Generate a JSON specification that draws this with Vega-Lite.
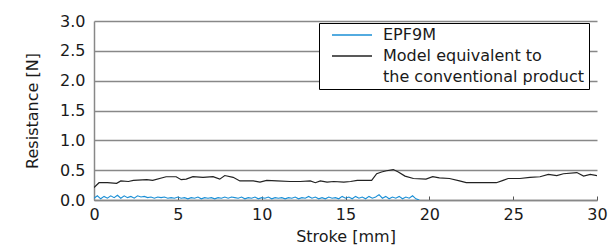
{
  "$schema": "https://vega.github.io/schema/vega-lite/v6.json",
  "width": 503,
  "height": 179,
  "autosize": "none",
  "padding": {"left": 94, "top": 21, "right": 12, "bottom": 51},
  "background": "white",
  "config": {
    "view": {"stroke": null},
    "font": "DejaVu Sans",
    "axis": {"labelFont": "DejaVu Sans", "titleFont": "DejaVu Sans", "labelFontSize": 16, "titleFontSize": 16, "titleFontWeight": "normal", "labelColor": "#1a1a1a", "titleColor": "#1a1a1a"}
  },
  "datasets": {
    "epf": [
      {"x":0.0,"y":0.03},{"x":0.2,"y":0.07},{"x":0.4,"y":0.02},{"x":0.6,"y":0.06},{"x":0.8,"y":0.03},{"x":1.0,"y":0.07},{"x":1.2,"y":0.04},{"x":1.4,"y":0.08},{"x":1.6,"y":0.03},{"x":1.8,"y":0.07},
      {"x":2.0,"y":0.04},{"x":2.2,"y":0.06},{"x":2.4,"y":0.03},{"x":2.6,"y":0.07},{"x":2.8,"y":0.05},{"x":3.0,"y":0.06},{"x":3.2,"y":0.04},{"x":3.4,"y":0.05},{"x":3.6,"y":0.03},{"x":3.8,"y":0.05},
      {"x":4.0,"y":0.04},{"x":4.2,"y":0.05},{"x":4.4,"y":0.03},{"x":4.6,"y":0.04},{"x":4.8,"y":0.03},{"x":5.0,"y":0.05},{"x":5.2,"y":0.03},{"x":5.4,"y":0.04},{"x":5.6,"y":0.02},{"x":5.8,"y":0.04},
      {"x":6.0,"y":0.03},{"x":6.2,"y":0.05},{"x":6.4,"y":0.02},{"x":6.6,"y":0.04},{"x":6.8,"y":0.03},{"x":7.0,"y":0.04},{"x":7.2,"y":0.02},{"x":7.4,"y":0.04},{"x":7.6,"y":0.03},{"x":7.8,"y":0.05},
      {"x":8.0,"y":0.03},{"x":8.2,"y":0.05},{"x":8.4,"y":0.04},{"x":8.6,"y":0.03},{"x":8.8,"y":0.05},{"x":9.0,"y":0.02},{"x":9.2,"y":0.04},{"x":9.4,"y":0.03},{"x":9.6,"y":0.05},{"x":9.8,"y":0.02},
      {"x":10.0,"y":0.04},{"x":10.2,"y":0.03},{"x":10.4,"y":0.05},{"x":10.6,"y":0.02},{"x":10.8,"y":0.04},{"x":11.0,"y":0.03},{"x":11.2,"y":0.04},{"x":11.4,"y":0.02},{"x":11.6,"y":0.04},{"x":11.8,"y":0.03},
      {"x":12.0,"y":0.05},{"x":12.2,"y":0.02},{"x":12.4,"y":0.04},{"x":12.6,"y":0.03},{"x":12.8,"y":0.06},{"x":13.0,"y":0.03},{"x":13.2,"y":0.05},{"x":13.4,"y":0.02},{"x":13.6,"y":0.04},{"x":13.8,"y":0.02},
      {"x":14.0,"y":0.05},{"x":14.2,"y":0.03},{"x":14.4,"y":0.04},{"x":14.6,"y":0.02},{"x":14.8,"y":0.06},{"x":15.0,"y":0.03},{"x":15.2,"y":0.05},{"x":15.4,"y":0.02},{"x":15.6,"y":0.06},{"x":15.8,"y":0.03},
      {"x":16.0,"y":0.05},{"x":16.2,"y":0.02},{"x":16.4,"y":0.06},{"x":16.6,"y":0.03},{"x":16.8,"y":0.05},{"x":17.0,"y":0.09},{"x":17.2,"y":0.03},{"x":17.4,"y":0.06},{"x":17.6,"y":0.02},{"x":17.8,"y":0.05},
      {"x":18.0,"y":0.03},{"x":18.2,"y":0.06},{"x":18.4,"y":0.02},{"x":18.6,"y":0.05},{"x":18.8,"y":0.03},{"x":19.0,"y":0.07},{"x":19.2,"y":0.02},{"x":19.4,"y":0.0}
    ],
    "conv": [
      {"x":0,"y":0.21},{"x":0.3,"y":0.29},{"x":0.8,"y":0.29},{"x":1.35,"y":0.28},{"x":1.6,"y":0.32},{"x":2.05,"y":0.31},{"x":2.35,"y":0.33},{"x":3.15,"y":0.34},{"x":3.5,"y":0.33},{"x":4.3,"y":0.39},
      {"x":4.9,"y":0.39},{"x":5.2,"y":0.34},{"x":5.5,"y":0.35},{"x":5.9,"y":0.39},{"x":6.5,"y":0.38},{"x":7.1,"y":0.39},{"x":7.5,"y":0.35},{"x":7.8,"y":0.41},{"x":8.3,"y":0.38},{"x":8.7,"y":0.32},
      {"x":9.5,"y":0.32},{"x":9.9,"y":0.3},{"x":10.3,"y":0.33},{"x":10.9,"y":0.32},{"x":11.7,"y":0.31},{"x":12.3,"y":0.31},{"x":12.9,"y":0.32},{"x":13.2,"y":0.29},{"x":13.5,"y":0.32},{"x":13.9,"y":0.3},
      {"x":14.3,"y":0.31},{"x":14.9,"y":0.3},{"x":15.3,"y":0.31},{"x":15.7,"y":0.33},{"x":16.56,"y":0.33},{"x":16.86,"y":0.44},{"x":17.15,"y":0.47},{"x":17.45,"y":0.49},{"x":17.85,"y":0.51},{"x":18.15,"y":0.47},
      {"x":18.55,"y":0.4},{"x":19.05,"y":0.36},{"x":19.8,"y":0.35},{"x":20.2,"y":0.39},{"x":20.6,"y":0.37},{"x":21.2,"y":0.36},{"x":21.8,"y":0.32},{"x":22.2,"y":0.29},{"x":23.2,"y":0.29},{"x":24.0,"y":0.29},
      {"x":24.4,"y":0.33},{"x":24.7,"y":0.36},{"x":25.4,"y":0.36},{"x":26.0,"y":0.38},{"x":26.6,"y":0.39},{"x":27.1,"y":0.43},{"x":27.6,"y":0.41},{"x":28.0,"y":0.44},{"x":28.8,"y":0.46},{"x":29.2,"y":0.4},
      {"x":29.6,"y":0.43},{"x":30,"y":0.41}
    ]
  },
  "encoding": {
    "x": {
      "field": "x", "type": "quantitative",
      "scale": {"domain": [0, 30], "nice": false},
      "axis": {"title": "Stroke [mm]", "values": [0,5,10,15,20,25,30], "grid": false, "domain": true, "domainColor": "#888", "domainWidth": 1.5, "ticks": true, "tickColor": "#555", "tickSize": -4, "tickWidth": 1, "labelPadding": 10, "titlePadding": 6, "labelFlush": false}
    },
    "y": {
      "field": "y", "type": "quantitative",
      "scale": {"domain": [0, 3], "nice": false},
      "axis": {"title": "Resistance [N]", "values": [0,0.5,1,1.5,2,2.5,3], "format": ".1f", "grid": true, "gridColor": "#888", "gridWidth": 1.5, "gridOpacity": 1, "domain": true, "domainColor": "#888", "domainWidth": 1.5, "ticks": false, "labelPadding": 9, "titlePadding": 19}
    }
  },
  "layer": [
    {
      "data": {"name": "epf"},
      "mark": {"type": "line", "strokeWidth": 1.1, "clip": true},
      "encoding": {
        "color": {
          "datum": "EPF9M",
          "type": "nominal",
          "scale": {"domain": ["EPF9M", "Model equivalent to", "the conventional product"], "range": ["#1a8fd6", "#222222", "transparent"]},
          "legend": {
            "orient": "none", "legendX": 225, "legendY": 2, "title": null,
            "padding": 4, "strokeColor": "#000", "fillColor": "#fff",
            "symbolType": "M-1,0H7", "symbolSize": 100, "symbolStrokeWidth": 1.3, "symbolOffset": 6,
            "labelOffset": 38, "labelFontSize": 16, "labelFont": "DejaVu Sans", "labelColor": "#1a1a1a",
            "rowPadding": 5, "labelLimit": 400,
            "labelExpr": "datum.label == 'the conventional product' ? datum.label + '\u00a0\u00a0' : datum.label"
          }
        }
      }
    },
    {
      "data": {"name": "conv"},
      "mark": {"type": "line", "strokeWidth": 1.2, "clip": true},
      "encoding": {
        "color": {"datum": "Model equivalent to", "type": "nominal"}
      }
    }
  ]
}
